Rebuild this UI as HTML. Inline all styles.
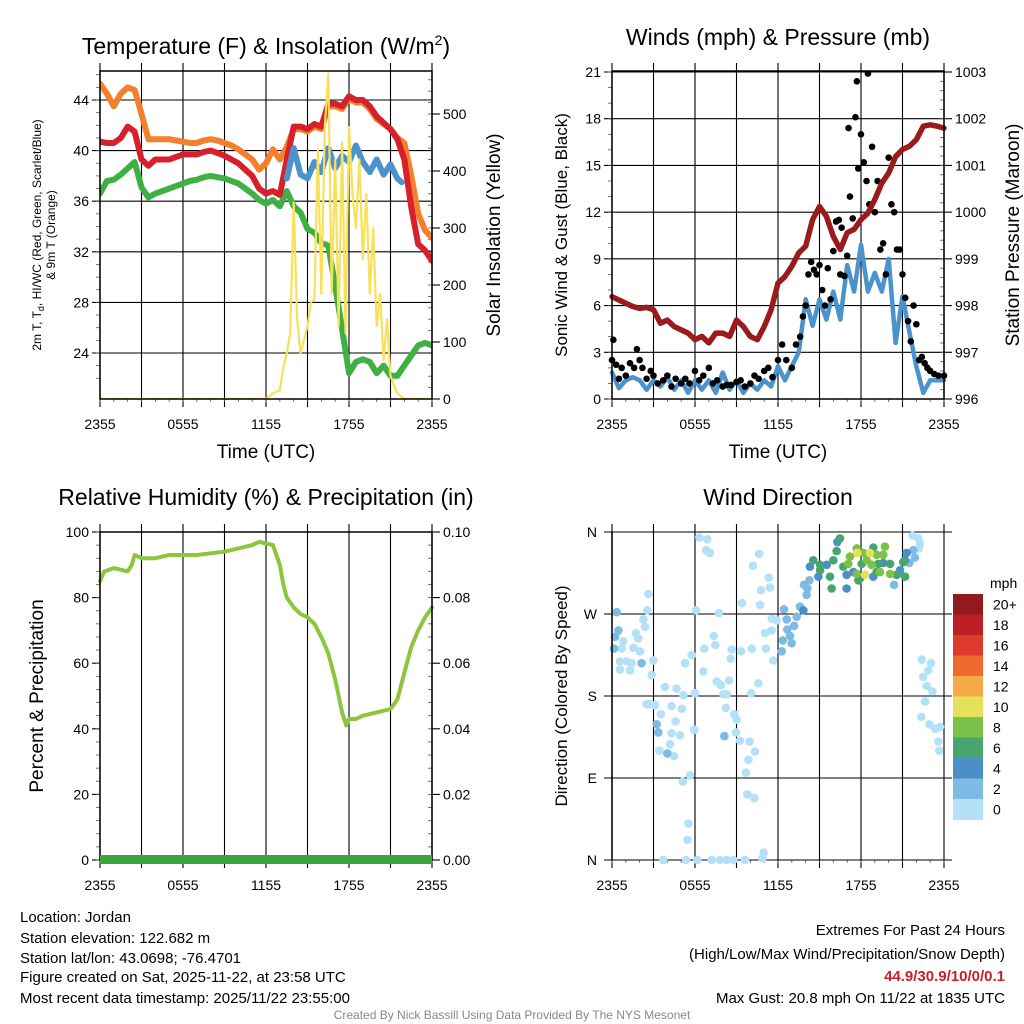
<!DOCTYPE html>
<html><head><meta charset="utf-8">
<style>
html,body{margin:0;padding:0;background:#fff;}
svg{display:block;font-family:"Liberation Sans",sans-serif;}
</style></head>
<body>
<svg id="chart" width="1024" height="1024" viewBox="0 0 1024 1024" xmlns="http://www.w3.org/2000/svg">
<rect width="1024" height="1024" fill="#fff"/>
<g id="g1"></g>
<g id="g2"></g>
<g id="g3"></g>
<g id="g4"></g>
<g id="txt">
<text x="266" y="54" font-size="23" text-anchor="middle">Temperature (F) &amp; Insolation (W/m<tspan font-size="14" dy="-9">2</tspan><tspan dy="9">)</tspan></text>
<text x="778" y="45" font-size="23" text-anchor="middle">Winds (mph) &amp; Pressure (mb)</text>
<text x="266" y="505" font-size="23" text-anchor="middle">Relative Humidity (%) &amp; Precipitation (in)</text>
<text x="778" y="505" font-size="23" text-anchor="middle">Wind Direction</text>
<text x="266" y="458" font-size="19" text-anchor="middle">Time (UTC)</text>
<text x="778" y="458" font-size="19" text-anchor="middle">Time (UTC)</text>
<text transform="translate(41,235) rotate(-90)" font-size="12" text-anchor="middle">2m T, T<tspan font-size="9" dy="3">d</tspan><tspan dy="-3">, HI/WC (Red, Green, Scarlet/Blue)</tspan></text>
<text transform="translate(55,235) rotate(-90)" font-size="12" text-anchor="middle">&amp; 9m T (Orange)</text>
<text transform="translate(500,235) rotate(-90)" font-size="19" text-anchor="middle">Solar Insolation (Yellow)</text>
<text transform="translate(567,235) rotate(-90)" font-size="17" text-anchor="middle">Sonic Wind &amp; Gust (Blue, Black)</text>
<text transform="translate(1019,235) rotate(-90)" font-size="19" text-anchor="middle">Station Pressure (Maroon)</text>
<text transform="translate(43,696) rotate(-90)" font-size="19" text-anchor="middle">Percent &amp; Precipitation</text>
<text transform="translate(567,696) rotate(-90)" font-size="17" text-anchor="middle">Direction (Colored By Speed)</text>
<g font-size="15">
<text x="20" y="922">Location: Jordan</text>
<text x="20" y="943">Station elevation: 122.682 m</text>
<text x="20" y="963">Station lat/lon: 43.0698; -76.4701</text>
<text x="20" y="982">Figure created on Sat, 2025-11-22, at 23:58 UTC</text>
<text x="20" y="1003">Most recent data timestamp: 2025/11/22 23:55:00</text>
</g>
<g font-size="15" text-anchor="end">
<text x="1005" y="935">Extremes For Past 24 Hours</text>
<text x="1005" y="959">(High/Low/Max Wind/Precipitation/Snow Depth)</text>
<text x="1005" y="981" fill="#c8202a" font-weight="bold">44.9/30.9/10/0/0.1</text>
<text x="1005" y="1003">Max Gust: 20.8 mph On 11/22 at 1835 UTC</text>
</g>
<text x="512" y="1019" font-size="12" fill="#888" text-anchor="middle">Created By Nick Bassill Using Data Provided By The NYS Mesonet</text>
</g>
</svg>
<script>
const hours = [0,0.5,1,1.5,2,2.5,3,3.5,4,4.5,5,5.5,6,6.5,7,7.5,8,8.5,9,9.5,10,10.5,11,11.5,12,12.5,13,13.5,14,14.5,15,15.5,16,16.5,17,17.5,18,18.5,19,19.5,20,20.5,21,21.5,22,22.5,23,23.5,24];
const tempRed = [40.7,40.6,40.6,41.0,41.9,41.5,39.3,38.8,39.3,39.3,39.3,39.5,39.7,39.7,39.7,39.9,40.0,39.8,39.6,39.3,39.0,38.5,38.0,37.0,36.6,36.8,36.5,39.3,41.9,41.9,41.7,42.1,41.9,43.7,43.7,43.5,44.3,44.0,44.0,43.5,42.7,42.2,41.7,40.9,39.3,35.5,32.6,32.1,31.3];
const temp9m = [45.3,44.5,43.5,44.5,45.0,44.8,42.9,40.9,40.9,40.9,40.9,40.8,40.7,40.6,40.6,40.8,40.9,40.8,40.6,40.4,40.1,39.7,39.3,38.5,39.0,40.1,39.3,40.3,41.7,41.7,41.5,41.9,41.7,43.5,43.5,43.3,44.1,43.8,43.8,43.3,42.5,42.1,41.7,41.0,40.6,38.0,35.0,33.7,33.1];
const dewpoint = [36.6,37.6,37.7,38.1,38.6,39.1,37.1,36.3,36.6,36.8,37.0,37.2,37.4,37.6,37.7,37.9,38.0,37.9,37.8,37.6,37.4,37.0,36.6,36.1,35.8,36.1,35.6,36.8,35.6,35.1,33.8,33.5,32.7,32.5,29.3,25.9,22.4,23.3,23.5,23.3,22.4,23.0,22.2,22.2,23.0,23.8,24.6,24.8,24.6];
const wcHours = [13.5,14,14.5,15,15.5,16,16.5,17,17.5,18,18.5,19,19.5,20,20.5,21,21.5,21.8];
const windChill = [37.8,40.2,38.1,37.8,39.1,38.3,40.2,38.6,39.6,39.1,40.4,39.1,38.3,39.3,38.1,38.9,37.8,37.5];
const insolHours = [0,12,12.5,13,13.25,13.5,13.75,14,14.25,14.5,15,15.25,15.5,15.75,16,16.25,16.5,16.75,17,17.25,17.5,17.75,18,18.25,18.5,18.75,19,19.25,19.5,19.75,20,20.25,20.5,20.75,21,21.5,22,24];
const insolation = [0,0,10,15,55,80,115,345,140,80,128,170,175,437,185,477,571,185,420,128,450,115,477,360,300,420,245,360,185,300,128,185,68,140,40,10,0,0];
const tempTicks = [24,28,32,36,40,44];
const insolTicks = [0,100,200,300,400,500];
const timeTickHours = [0,6,12,18,24];
const timeTickLabels = ["2355","0555","1155","1755","2355"];

const pressure = [998.19,998.12,998.05,997.98,997.94,997.96,997.91,997.62,997.69,997.55,997.48,997.41,997.27,997.34,997.20,997.41,997.41,997.34,997.69,997.55,997.34,997.27,997.55,997.91,998.48,998.62,998.84,999.13,999.27,999.84,1000.12,999.91,999.48,999.20,999.56,999.63,999.84,999.98,1000.27,1000.62,1000.84,1001.19,1001.34,1001.41,1001.55,1001.84,1001.87,1001.84,1001.80];
const windSpeed = [1.7,0.7,1.2,1.4,1.2,0.6,1.2,0.8,1.4,0.6,1.2,0.4,1.2,0.6,1.2,0.4,1.7,0.6,1.2,0.4,1.0,0.6,1.2,0.8,2.1,1.2,2.1,3.0,6.4,4.7,6.4,5.1,6.9,5.1,8.6,6.9,9.9,6.9,8.1,6.9,9.0,3.6,6.6,4.3,2.1,0.4,1.2,1.2,1.2];
const gustHours = [0,0.1,0.3,0.5,0.7,1,1.3,1.6,1.8,2,2.2,2.5,2.8,3,3.3,3.7,4,4.3,4.6,5,5.3,5.6,6,6.3,6.6,7,7.3,7.6,8,8.3,8.6,9,9.3,9.6,10,10.3,10.6,11,11.3,11.6,12,12.3,12.6,13,13.3,13.6,13.8,14,14.2,14.4,14.6,14.8,15,15.2,15.4,15.6,15.8,16,16.2,16.4,16.5,16.6,16.8,17,17.1,17.2,17.4,17.6,17.7,17.8,18,18.2,18.4,18.5,18.6,18.8,19,19.2,19.4,19.6,19.8,20,20.2,20.4,20.6,20.8,21,21.2,21.4,21.6,21.8,22,22.2,22.4,22.6,22.8,23,23.3,23.6,24];
const gustSpeed = [2.5,3.8,2.2,1.3,2.0,1.5,2.3,2.0,3.2,2.5,2.0,1.3,1.8,1.5,1.0,1.2,1.5,0.8,1.3,1.0,1.3,1.0,1.8,1.2,1.5,2.0,1.0,1.2,0.8,0.9,0.9,1.1,1.2,0.8,1.0,1.5,1.3,1.8,2.0,1.4,2.5,3.5,2.5,2.0,3.5,4.0,5.3,6.0,8.0,8.8,8.3,8.0,8.6,7.0,6.0,8.4,6.4,9.5,11.4,11.5,8.0,11.0,7.9,9.2,17.4,13.0,11.6,18.1,20.4,14.8,17.0,15.2,14.0,20.9,12.5,16.2,12.0,14.0,9.6,10.0,8.0,15.5,12.5,12.0,9.6,9.6,8.0,6.5,5.0,3.7,6.0,4.8,2.5,2.7,2.3,2.0,1.8,1.6,1.5,1.5];
const windTicks = [0,3,6,9,12,15,18,21];
const pressureTicks = [996,997,998,999,1000,1001,1002,1003];

const rhHours = [0,0.3,1,2,2.3,2.5,3,4,5,6,7,8,9,10,11,11.5,12,12.5,13,13.25,13.5,14,14.5,15,15.5,16,16.5,17,17.5,17.8,18,18.5,19,20,21,21.5,22,22.5,23,23.5,24];
const humidity = [85,88,89,88,90,93,92,92,93,93,93,93.5,94,95,96,97,96.5,96,90,84,80,77,75,74,72,68,63,55,45,41,43,43,44,45,46,49,57,65,70,74,77];
const rhTicks = [0,20,40,60,80,100];
const precipTicks = ["0.00","0.02","0.04","0.06","0.08","0.10"];

const dirHours = [2.63,2.55,2.27,2.39,1.73,1.90,0.82,0.70,1.54,2.02,0.58,1.06,1.42,0.58,1.30,2.99,2.87,3.83,4.67,5.16,6.0,2.75,3.11,3.54,4.31,5.04,4.60,4.31,4.92,4.19,3.42,4.48,5.95,5.64,5.11,5.52,5.45,3.71,5.35,6.17,7.2,7.81,8.29,8.77,9.61,10.87,10.96,9.78,10.29,9.69,9.86,10.34,9.95,9.25,8.96,8.84,9.01,8.24,8.05,8.29,8.46,7.86,7.57,6.6,5.28,5.76,6.67,7.47,7.35,7.73,6.07,8.65,8.58,9.33,10.1,10.05,10.58,11.13,11.66,11.06,11.54,11.54,11.9,10.7,9.4,10.77,11.42,11.33,10.19,10.63,6.31,6.89,6.8,7.08,21.73,22.14,22.27,22.19,22.39,23.06,22.87,22.5,22.75,23.16,22.63,22.36,22.94,23.35,23.71,23.59,23.66,2.5,
0.34,0.22,0.14,0.46,2.14,3.23,3.35,4.0,8.12,12.27,12.34,12.99,12.87,12.67,13.16,12.63,12.43,13.35,13.59,14.07,14.12,14.27,13.88,21.9,21.78,20.39,21.49,
14.92,15.52,16.96,16.96,17.45,18.89,20.82,21.18,13.83,14.31,16.29,19.61,17.93,21.3,
14.55,15.04,15.76,15.88,16.24,16.48,16.0,16.72,18.05,18.89,19.25,20.1,20.58,21.06,21.18,17.81,19.13,15.04,
17.69,17.2,17.08,18.41,19.13,19.73,19.61,19.37,20.1,17.69,18.17,18.77,
17.73,18.65,18.29];
const dirDeg = [292,274,264,256,249,243,240,232,233,229,218,218,216,209,208,219,203,190,188,181,183,171,170,160,169,166,152,139,137,127,120,114,143,93,86,40,22,0,0,0,0,0,0,0,0,2,8,72,68,96,110,119,130,131,140,160,154,167,182,182,197,192,196,207,216,225,232,236,246,271,274,231,221,229,232,183,194,232,219,249,252,265,263,280,282,296,299,310,323,336,354,352,340,337,356,353,347,342,220,216,208,201,191,185,174,157,149,144,146,130,120,171,
272,245,232,252,216,149,140,117,136,229,241,238,246,253,257,264,275,267,278,291,298,307,302,332,340,302,326,
311,324,298,313,316,311,318,329,274,322,349,326,309,337,
329,318,311,298,339,353,329,322,325,343,325,325,313,327,311,307,316,324,
342,333,325,329,335,344,335,316,314,314,337,324,
337,337,313];
const dirSpeed = [].concat(Array(112).fill(1),Array(27).fill(3),Array(14).fill(5),Array(18).fill(7),Array(12).fill(9),Array(3).fill(11));
const dirTickDeg = [0,90,180,270,360];
const dirTickLabels = ["N","E","S","W","N"];
const speedBins = ["0","2","4","6","8","10","12","14","16","18","20+"];
const speedColors = ["#b4e1f8","#7dbbe5","#4a8fc7","#47a56e","#7cc24a","#e6e05a","#f6aa47","#ef6a2c","#dd3a2b","#bd1e25","#921a1d"];

const NS="http://www.w3.org/2000/svg";
function mk(parent,tag,attrs){const e=document.createElementNS(NS,tag);for(const k in attrs)e.setAttribute(k,attrs[k]);parent.appendChild(e);return e;}
function lin(d0,d1,r0,r1){return v=>r0+(v-d0)*(r1-r0)/(d1-d0);}

function frame(g,L,T,R,B,xs,name){
  for(let h=0;h<=24;h+=3){
    const l=mk(g,'line',{x1:xs(h),x2:xs(h),y1:T-8,y2:B+8,stroke:'#000','stroke-width':1.1});
    
    
  }
  for(let h=0;h<=24;h+=1){
    mk(g,'line',{x1:xs(h),x2:xs(h),y1:B,y2:B+3,stroke:'#555','stroke-width':0.8});
  }
  timeTickHours.forEach((h,i)=>{
    const t=mk(g,'text',{x:xs(h),y:B+30,'font-size':14,'text-anchor':'middle'});
    t.textContent=timeTickLabels[i];
    
    
  });
}
function box(g,L,T,R,B){mk(g,'rect',{x:L,y:T,width:R-L,height:B-T,fill:'none',stroke:'#000','stroke-width':1.5});}
function poly(g,xs,ys,X,Y,color,w,name){
  const p=mk(g,'polyline',{points:X.map((v,i)=>xs(v).toFixed(1)+','+ys(Y[i]).toFixed(1)).join(' '),fill:'none',stroke:color,'stroke-width':w,'stroke-linejoin':'round','stroke-linecap':'round'});
  
  
  return p;
}
function hgrid(g,L,R,y,len){mk(g,'line',{x1:L-len,x2:R,y1:y,y2:y,stroke:'#000','stroke-width':1.1});}
function ytxt(g,x,y,s,anchor,name){const t=mk(g,'text',{x:x,y:y+5,'font-size':14,'text-anchor':anchor});t.textContent=s;}

// Panel 1
(function(){
  const g=document.getElementById('g1');
  const L=100,R=432,T=71,B=399;
  const xs=lin(0,24,L,R), ys=lin(24,44,353,100), yi=lin(0,500,399,114);
  frame(g,L,T,R,B,xs,'temp');
  tempTicks.forEach(v=>{hgrid(g,L,R,ys(v),8);ytxt(g,L-11,ys(v),String(v),'end','temp-y-tick-label');});
  for(let v=22;v<=46;v+=1){mk(g,'line',{x1:L-4,x2:L,y1:ys(v),y2:ys(v),stroke:'#555','stroke-width':0.8});}
  insolTicks.forEach(v=>{mk(g,'line',{x1:R,x2:R+8,y1:yi(v),y2:yi(v),stroke:'#000','stroke-width':1.1});ytxt(g,R+11,yi(v),String(v),'start','insolation-tick-label');});
  for(let v=0;v<=570;v+=20){mk(g,'line',{x1:R-4,x2:R,y1:yi(v),y2:yi(v),stroke:'#555','stroke-width':0.8});}
  const cp=mk(mk(g,'defs',{}),'clipPath',{id:'c1'});mk(cp,'rect',{x:L,y:T,width:R-L,height:B-T});
  const cg=mk(g,'g',{'clip-path':'url(#c1)'});
  poly(cg,xs,ys,hours,temp9m,'#f47f2c',6,'orange-9m-temp-line');
  poly(cg,xs,ys,hours,dewpoint,'#3fb043',6,'green-dewpoint-line');
  poly(cg,xs,ys,hours,tempRed,'#d6202a',6,'red-temp-line');
  poly(cg,xs,ys,wcHours,windChill,'#4b93cc',6,'blue-windchill-line');
  poly(cg,xs,yi,insolHours,insolation,'#f8e05a',2.2,'yellow-insolation-line');
  box(g,L,T,R,B);
})();

// Panel 2
(function(){
  const g=document.getElementById('g2');
  const L=612,R=944,T=71,B=399;
  const xs=lin(0,24,L,R), yw=lin(0,21,399,72), yp=lin(996,1003,399,72);
  frame(g,L,T,R,B,xs,'wind');
  windTicks.forEach(v=>{hgrid(g,L,R,yw(v),8);ytxt(g,L-11,yw(v),String(v),'end','wind-y-tick-label');});
  for(let v=0;v<=21;v+=1){mk(g,'line',{x1:L-4,x2:L,y1:yw(v),y2:yw(v),stroke:'#555','stroke-width':0.8});}
  pressureTicks.forEach(v=>{mk(g,'line',{x1:R,x2:R+8,y1:yp(v),y2:yp(v),stroke:'#000','stroke-width':1.1});ytxt(g,R+11,yp(v),String(v),'start','pressure-tick-label');});
  for(let v=996;v<=1003;v+=0.2){mk(g,'line',{x1:R-4,x2:R,y1:yp(v),y2:yp(v),stroke:'#555','stroke-width':0.8});}
  poly(g,xs,yw,hours,windSpeed,'#4b93cc',4.5,'blue-wind-line');
  gustHours.forEach((h,i)=>{
    const c=mk(g,'circle',{cx:xs(h),cy:yw(gustSpeed[i]),r:3.3,fill:'#000'});
    
    
  });
  poly(g,xs,yp,hours,pressure,'#9b1a1c',5.5,'maroon-pressure-line');
  box(g,L,T,R,B);
})();

// Panel 3
(function(){
  const g=document.getElementById('g3');
  const L=100,R=432,T=532,B=860;
  const xs=lin(0,24,L,R), yr=lin(0,100,860,532);
  frame(g,L,T,R,B,xs,'humidity');
  rhTicks.forEach((v,i)=>{
    mk(g,'line',{x1:L-8,x2:L,y1:yr(v),y2:yr(v),stroke:'#000','stroke-width':1.1});
    mk(g,'line',{x1:R,x2:R+8,y1:yr(v),y2:yr(v),stroke:'#000','stroke-width':1.1});
    ytxt(g,L-11,yr(v),String(v),'end','humidity-tick-label');
    ytxt(g,R+11,yr(v),precipTicks[i],'start','precip-tick-label');
  });
  for(let v=0;v<=100;v+=4){mk(g,'line',{x1:L-4,x2:L,y1:yr(v),y2:yr(v),stroke:'#555','stroke-width':0.8});mk(g,'line',{x1:R-4,x2:R,y1:yr(v),y2:yr(v),stroke:'#555','stroke-width':0.8});}
  poly(g,xs,yr,rhHours,humidity,'#8cc63f',4,'humidity-line');
  box(g,L,T,R,B);
  const p=mk(g,'rect',{x:L,y:855,width:R-L,height:9,fill:'#3aa53a'});
  
  
})();

// Panel 4
(function(){
  const g=document.getElementById('g4');
  const L=612,R=944,T=532,B=860;
  const xs=lin(0,24,L,R), yd=lin(0,360,860,532);
  frame(g,L,T,R,B,xs,'direction');
  dirTickDeg.forEach((v,i)=>{hgrid(g,L,R+8,yd(v),8);ytxt(g,L-15,yd(v),dirTickLabels[i],'end','direction-tick-label');});
  dirHours.forEach((h,i)=>{
    const bin=Math.min(10,Math.floor(dirSpeed[i]/2));
    const c=mk(g,'circle',{cx:xs(h),cy:yd(dirDeg[i]),r:4.3,fill:speedColors[bin]});
    
    
  });
  mk(g,'line',{x1:L,x2:L,y1:T,y2:B,stroke:'#000','stroke-width':1.5});
  const top=594,bh=20.5;
  const lab=mk(g,'text',{x:990,y:588,'font-size':14});lab.textContent='mph';
  
  
  for(let i=0;i<11;i++){
    const k=10-i;
    const r=mk(g,'rect',{x:953,y:top+i*bh,width:30,height:bh+0.5,fill:speedColors[k]});
    
    
    const t=mk(g,'text',{x:993,y:top+i*bh+bh/2+5,'font-size':14});t.textContent=speedBins[k];
    
    
  }
})();
</script>
</body></html>
